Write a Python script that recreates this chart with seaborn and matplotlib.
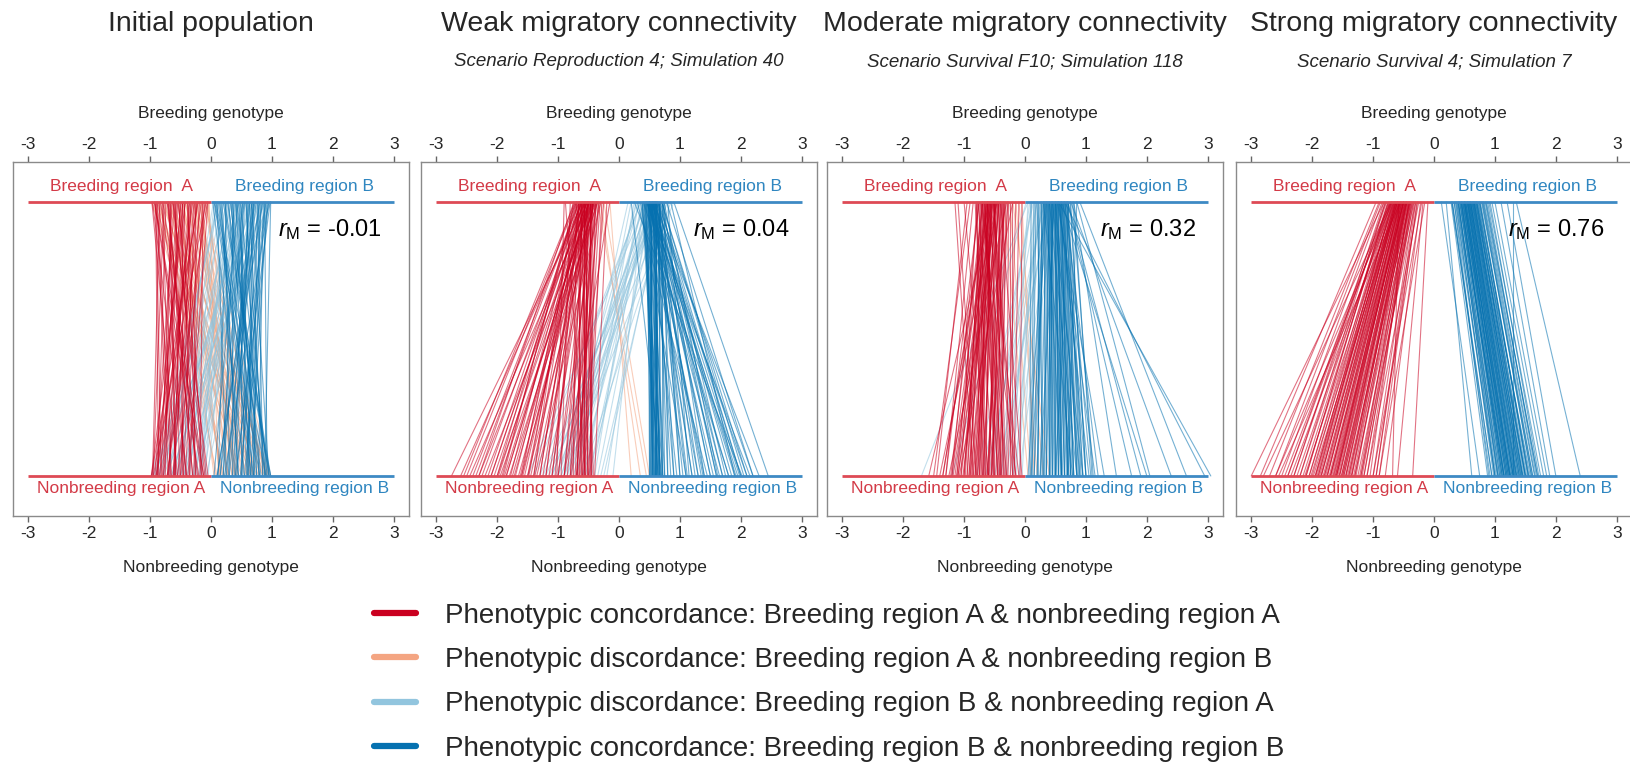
import numpy as np
import pandas as pd
import matplotlib
matplotlib.use("Agg")
import matplotlib.pyplot as plt
from matplotlib.lines import Line2D
import seaborn as sns

# ---------------- data ----------------
titles = ["Initial population", "Weak migratory connectivity",
          "Moderate migratory connectivity", "Strong migratory connectivity"]
subtitles = ["", "Scenario Reproduction 4; Simulation 40",
             "Scenario Survival F10; Simulation 118", "Scenario Survival 4; Simulation 7"]
r_m_values = ["-0.01", "0.04", "0.32", "0.76"]
tick_values = [-3, -2, -1, 0, 1, 2, 3]

# Panel 1 - initial population
p1_aa_breed = [-0.97, -0.93, -0.9, -0.86, -0.84, -0.8, -0.79, -0.74, -0.71, -0.69, -0.66, -0.63, -0.6, -0.58,
               -0.55, -0.53, -0.5, -0.47, -0.44, -0.42, -0.39, -0.36, -0.33, -0.3, -0.28, -0.25, -0.22, -0.19,
               -0.16, -0.13, -0.1, -0.08, -0.05, -0.88, -0.62, -0.57, -0.48, -0.35, -0.72, -0.91,
               -0.96, -0.89, -0.83, -0.77, -0.7, -0.64, -0.59, -0.54, -0.49, -0.43, -0.38, -0.32, -0.27, -0.21,
               -0.14, -0.06, -0.93, -0.67, -0.46, -0.24]
p1_aa_nonbr = [-0.55, -0.2, -0.82, -0.4, -0.96, -0.65, -0.12, -0.88, -0.3, -0.58, -0.75, -0.05, -0.92, -0.45,
               -0.68, -0.25, -0.8, -0.6, -0.35, -0.98, -0.15, -0.7, -0.5, -0.85, -0.62, -0.28, -0.9, -0.42,
               -0.72, -0.18, -0.55, -0.95, -0.38, -0.66, -0.1, -0.78, -0.48, -0.6, -0.22, -0.86,
               -0.4, -0.7, -0.15, -0.95, -0.3, -0.82, -0.52, -0.08, -0.88, -0.62, -0.25, -0.78, -0.45, -0.98,
               -0.35, -0.72, -0.12, -0.58, -0.9, -0.5]
p1_ab_breed = [-0.96, -0.9, -0.85, -0.81, -0.76, -0.7, -0.66, -0.61, -0.57, -0.52, -0.48, -0.43, -0.39, -0.34,
               -0.29, -0.24, -0.2, -0.15, -0.11, -0.06, -0.03, -0.78, -0.64, -0.45, -0.27, -0.88, -0.55, -0.36,
               -0.18, -0.09, -0.93, -0.83, -0.73, -0.63, -0.53, -0.41, -0.31, -0.22, -0.13, -0.05, -0.98, -0.68,
               -0.47, -0.26, -0.16]
p1_ab_nonbr = [0.3, 0.65, 0.1, 0.85, 0.45, 0.95, 0.2, 0.55, 0.75, 0.05, 0.4, 0.9, 0.62, 0.15, 0.8, 0.35, 0.7,
               0.25, 0.98, 0.5, 0.12, 0.6, 0.88, 0.28, 0.42, 0.72, 0.18, 0.92, 0.38, 0.68,
               0.5, 0.22, 0.78, 0.35, 0.92, 0.15, 0.65, 0.45, 0.85, 0.28, 0.7, 0.08, 0.58, 0.95, 0.4]
p1_ba_breed = [0.04, 0.08, 0.12, 0.17, 0.21, 0.26, 0.3, 0.34, 0.39, 0.43, 0.47, 0.52, 0.56, 0.6, 0.65, 0.69,
               0.73, 0.78, 0.82, 0.87, 0.91, 0.95, 0.15, 0.37, 0.5, 0.63, 0.76, 0.85, 0.24, 0.98,
               0.06, 0.19, 0.28, 0.41, 0.54, 0.67, 0.8, 0.93, 0.11, 0.33, 0.45, 0.58, 0.71, 0.89, 0.97]
p1_ba_nonbr = [-0.7, -0.35, -0.9, -0.15, -0.55, -0.8, -0.25, -0.62, -0.05, -0.45, -0.95, -0.3, -0.72, -0.12,
               -0.5, -0.85, -0.4, -0.65, -0.2, -0.58, -0.08, -0.78, -0.98, -0.42, -0.6, -0.28, -0.88, -0.5,
               -0.18, -0.68, -0.5, -0.78, -0.1, -0.38, -0.92, -0.22, -0.65, -0.45, -0.85, -0.55, -0.18, -0.72,
               -0.32, -0.95, -0.28]
p1_bb_breed = [0.03, 0.06, 0.1, 0.14, 0.18, 0.22, 0.25, 0.29, 0.32, 0.36, 0.4, 0.44, 0.48, 0.51, 0.54, 0.58,
               0.62, 0.66, 0.7, 0.74, 0.77, 0.8, 0.83, 0.86, 0.89, 0.92, 0.95, 0.98, 0.45, 0.6, 0.72, 0.35, 0.2,
               0.55, 0.68, 0.81, 0.9, 0.12, 0.42, 0.64,
               0.05, 0.16, 0.27, 0.38, 0.47, 0.57, 0.67, 0.76, 0.85, 0.94, 0.08, 0.24, 0.41, 0.52, 0.63, 0.79,
               0.88, 0.97, 0.33, 0.7]
p1_bb_nonbr = [0.55, 0.9, 0.25, 0.7, 0.45, 0.98, 0.12, 0.6, 0.82, 0.35, 0.68, 0.05, 0.92, 0.5, 0.2, 0.75, 0.4,
               0.95, 0.62, 0.3, 0.85, 0.1, 0.58, 0.78, 0.42, 0.65, 0.22, 0.88, 0.72, 0.52, 0.15, 0.8, 0.96, 0.38,
               0.6, 0.7, 0.48, 0.66, 0.9, 0.28,
               0.8, 0.45, 0.95, 0.2, 0.62, 0.88, 0.35, 0.7, 0.1, 0.55, 0.98, 0.3, 0.75, 0.15, 0.85, 0.5, 0.92,
               0.4, 0.65, 0.25]

# Panel 2 - weak connectivity
p2_aa_breed = [-0.55, -0.6, -0.48, -0.7, -0.52, -0.42, -0.65, -0.58, -0.45, -0.38, -0.62, -0.5, -0.72, -0.35,
               -0.56, -0.47, -0.68, -0.4, -0.53, -0.6, -0.44, -0.75, -0.3, -0.57, -0.49, -0.64, -0.41, -0.55,
               -0.66, -0.36, -0.8, -0.52, -0.46, -0.59, -0.7, -0.33, -0.61, -0.43, -0.5, -0.25, -0.88, -0.54,
               -0.63, -0.39, -0.47, -0.58, -0.2, -0.67, -0.51, -0.44, -0.56, -0.6, -0.48, -0.53, -0.65, -0.37,
               -0.15, -0.72, -0.9, -0.42,
               -0.66, -0.61, -0.57, -0.53, -0.49, -0.45, -0.41, -0.37, -0.63, -0.59, -0.55, -0.51, -0.47, -0.43,
               -0.39, -0.7, -0.74, -0.34, -0.31, -0.28, -0.56, -0.52, -0.48, -0.62, -0.58, -0.46, -0.44, -0.64,
               -0.69, -0.5]
p2_aa_nonbr = [-2.75, -2.6, -2.45, -2.5, -2.3, -2.2, -2.35, -2.1, -2.0, -1.95, -2.15, -1.85, -1.9, -1.8, -1.7,
               -1.75, -1.6, -1.65, -1.55, -1.5, -1.45, -1.4, -1.35, -1.3, -1.25, -1.2, -1.15, -1.1, -1.05, -1.0,
               -0.95, -0.9, -0.85, -0.8, -0.75, -0.7, -0.68, -0.65, -0.6, -0.58, -0.55, -0.52, -0.5, -0.48,
               -0.45, -0.42, -0.4, -0.62, -0.72, -0.66, -0.57, -1.62, -1.88, -2.05, -1.48, -0.78, -0.9, -2.55,
               -1.02, -1.38,
               -2.4, -2.25, -2.1, -1.98, -1.85, -1.72, -1.6, -1.5, -1.4, -1.3, -1.2, -1.1, -1.0, -0.9, -0.8,
               -2.0, -2.3, -0.7, -0.6, -0.5, -0.62, -0.55, -0.48, -0.68, -0.58, -0.52, -0.45, -1.78, -1.92, -1.58]
p2_ab_breed = [-0.35, -0.25, -0.15, -0.3]
p2_ab_nonbr = [0.45, 0.5, 0.2, 0.35]
p2_ba_breed = [0.35, 0.5, 0.42, 0.6, 0.28, 0.55, 0.45, 0.7, 0.38, 0.62, 0.48, 0.8, 0.32, 0.58, 0.4, 0.66, 0.52,
               0.25, 0.9, 0.44, 0.36, 0.75, 0.5, 0.3, 0.6, 0.46, 0.85, 0.55, 0.4, 0.2, 0.65, 0.34, 0.5, 0.72, 0.15]
p2_ba_nonbr = [-1.3, -1.1, -0.9, -1.2, -0.8, -1.0, -0.7, -1.15, -0.6, -0.95, -0.5, -1.05, -0.4, -0.85, -0.75,
               -1.25, -0.65, -0.55, -0.9, -0.45, -1.4, -0.3, -0.2, -1.0, -0.8, -1.5, -0.6, -0.35, -0.1, -0.7,
               -0.5, -0.95, -1.1, -0.25, -0.85]
p2_bb_breed = [0.55, 0.5, 0.6, 0.45, 0.65, 0.52, 0.58, 0.48, 0.7, 0.42, 0.62, 0.55, 0.5, 0.75, 0.38, 0.6, 0.53,
               0.47, 0.66, 0.57, 0.35, 0.8, 0.5, 0.62, 0.44, 0.56, 0.72, 0.3, 0.59, 0.51, 0.64, 0.46, 0.54, 0.68,
               0.4, 0.58, 0.85, 0.49, 0.61, 0.25, 0.55, 0.7, 0.52, 0.45, 0.63, 0.57, 0.9, 0.5, 0.6, 0.43, 0.53,
               0.67, 0.48, 0.56, 0.62, 0.2, 0.58, 0.5, 0.74, 0.54,
               0.52, 0.56, 0.6, 0.48, 0.64, 0.44, 0.68, 0.58, 0.54, 0.5, 0.62, 0.46, 0.66, 0.72, 0.42, 0.57,
               0.53, 0.61, 0.49, 0.55, 0.59, 0.63, 0.47, 0.51, 0.65, 0.7, 0.4, 0.78, 0.38, 0.6]
p2_bb_nonbr = [0.5, 0.55, 0.6, 0.52, 0.65, 0.58, 0.62, 0.68, 0.7, 0.56, 0.6, 0.72, 0.75, 0.8, 0.64, 0.85, 0.9,
               0.95, 1.0, 1.05, 1.1, 1.15, 1.2, 1.25, 1.3, 1.35, 1.4, 1.45, 1.5, 1.55, 1.6, 1.65, 1.7, 1.75, 1.8,
               1.85, 1.9, 1.95, 2.0, 2.02, 1.98, 2.05, 2.1, 2.15, 2.2, 2.3, 2.45, 0.57, 0.63, 0.66, 0.53, 0.59,
               0.61, 0.67, 0.54, 0.7, 1.12, 1.38, 1.62, 1.92,
               0.55, 0.6, 0.65, 0.5, 0.7, 0.58, 0.75, 0.62, 0.52, 0.68, 0.8, 0.56, 0.9, 1.0, 0.6, 1.1, 1.2, 1.3,
               1.4, 1.5, 1.6, 1.7, 1.8, 1.9, 2.0, 2.1, 0.64, 2.2, 0.72, 0.66]

# Panel 3 - moderate connectivity
p3_aa_breed = [-0.75, -0.6, -0.5, -0.68, -0.45, -0.55, -0.8, -0.4, -0.62, -0.35, -0.7, -0.52, -0.3, -0.58,
               -0.48, -0.65, -0.42, -0.78, -0.56, -0.38, -0.66, -0.5, -0.25, -0.72, -0.6, -0.46, -0.54, -0.33,
               -0.82, -0.64, -0.44, -0.57, -0.7, -0.2, -0.52, -0.62, -0.4, -0.74, -0.49, -0.59, -0.36, -0.67,
               -0.15, -0.9, -0.53, -0.63, -0.43, -0.71, -0.1, -1.15, -1.1, -0.56, -0.47, -0.61, -0.28, -0.77,
               -0.51, -0.69, -0.58, -0.05,
               -0.79, -0.73, -0.67, -0.61, -0.55, -0.5, -0.45, -0.41, -0.37, -0.32, -0.27, -0.22, -0.76, -0.7,
               -0.64, -0.59, -0.53, -0.48, -0.43, -0.39, -0.34, -0.29, -0.85, -0.95, -1.0, -0.66, -0.57, -0.46,
               -0.52, -0.62]
p3_aa_nonbr = [-1.3, -1.2, -1.1, -1.0, -0.9, -0.8, -0.7, -0.6, -0.5, -0.4, -0.3, -0.2, -1.25, -1.15, -1.05,
               -0.95, -0.85, -0.75, -0.65, -0.55, -0.45, -0.35, -0.25, -0.15, -1.35, -1.4, -0.72, -0.62, -0.52,
               -0.42, -0.32, -0.88, -0.98, -1.08, -1.18, -0.1, -0.05, -0.68, -0.58, -0.78, -0.48, -0.38, -0.28,
               -1.5, -1.58, -0.92, -0.82, -0.66, -0.18, -0.85, -0.8, -1.12, -1.02, -0.74, -0.56, -0.44, -0.34,
               -1.22, -0.64, -0.08,
               -1.05, -0.95, -0.9, -0.82, -0.75, -0.68, -0.6, -0.52, -0.45, -0.38, -0.3, -0.22, -1.2, -1.12,
               -1.0, -0.92, -0.86, -0.78, -0.7, -0.62, -0.55, -0.42, -1.3, -1.45, -0.6, -0.5, -0.4, -1.1, -0.15,
               -1.35]
p3_ab_breed = [-0.25, -0.15, -0.1, -0.35, -0.05, -0.2]
p3_ab_nonbr = [0.1, 0.2, 0.3, 0.05, 0.15, 0.4]
p3_ba_breed = [0.05, 0.1, 0.15, 0.2, 0.25, 0.3, 0.12, 0.18, 0.35, 0.4, 0.08, 0.22, 0.28, 0.45, 0.5, 0.14, 0.32,
               0.05, 0.38, 0.02]
p3_ba_nonbr = [-0.2, -0.4, -0.1, -0.6, -0.3, -0.5, -0.7, -0.15, -0.25, -0.45, -0.55, -0.05, -0.35, -0.2, -0.1,
               -0.8, -0.65, -1.7, -0.4, -1.2]
p3_bb_breed = [0.4, 0.5, 0.3, 0.6, 0.45, 0.55, 0.35, 0.65, 0.25, 0.7, 0.42, 0.52, 0.38, 0.58, 0.48, 0.62, 0.32,
               0.68, 0.2, 0.75, 0.44, 0.54, 0.4, 0.6, 0.5, 0.28, 0.66, 0.36, 0.56, 0.46, 0.15, 0.8, 0.52, 0.43,
               0.63, 0.33, 0.57, 0.47, 0.72, 0.1, 0.5, 0.6, 0.4, 0.85, 0.55, 0.45, 0.65, 0.35, 0.53, 0.3, 0.8,
               0.7, 0.6, 0.85, 0.75, 0.9, 0.65, 0.55, 0.7, 0.5,
               0.31, 0.37, 0.41, 0.46, 0.51, 0.56, 0.61, 0.66, 0.71, 0.27, 0.34, 0.39, 0.44, 0.49, 0.54, 0.59,
               0.64, 0.69, 0.74, 0.22, 0.48, 0.53, 0.58, 0.43, 0.38, 0.63, 0.68, 0.33, 0.78, 0.18]
p3_bb_nonbr = [0.3, 0.5, 0.2, 0.7, 0.4, 0.6, 0.1, 0.8, 0.15, 0.9, 0.45, 0.55, 0.35, 0.65, 0.25, 0.75, 0.05,
               0.85, 0.3, 1.0, 0.5, 0.6, 0.4, 0.7, 0.55, 0.2, 0.95, 0.25, 1.05, 0.35, 0.1, 1.1, 0.65, 0.45, 0.8,
               0.15, 0.75, 0.6, 0.5, 0.08, 0.9, 1.0, 0.85, 0.7, 1.15, 0.95, 1.2, 0.6, 1.3, 0.78, 1.5, 1.75, 2.0,
               2.05, 2.4, 2.65, 2.95, 3.05, 1.9, 0.72,
               0.35, 0.45, 0.5, 0.58, 0.65, 0.72, 0.8, 0.88, 0.95, 0.28, 0.4, 0.48, 0.55, 0.62, 0.7, 0.78, 0.86,
               0.92, 1.0, 0.22, 0.6, 0.68, 0.75, 0.52, 0.42, 0.85, 1.08, 0.32, 1.12, 0.12]

# Panel 4 - strong connectivity
p4_aa_breed = [-0.6, -0.5, -0.7, -0.45, -0.55, -0.65, -0.4, -0.75, -0.52, -0.58, -0.35, -0.62, -0.48, -0.68,
               -0.42, -0.8, -0.56, -0.3, -0.66, -0.5, -0.72, -0.46, -0.6, -0.38, -0.54, -0.64, -0.44, -0.78,
               -0.25, -0.58, -0.5, -0.7, -0.4, -0.62, -0.85, -0.47, -0.56, -0.33, -0.66, -0.52, -0.2, -0.74,
               -0.43, -0.6, -0.9, -0.5, -0.57, -0.36, -0.68, -0.15, -0.55, -0.45, -0.63, -0.7, -0.4, -0.53,
               -0.82, -0.3, -0.6, -0.48, -0.65, -0.1, -0.58, -0.42, -0.72, -0.5, -0.62, -0.38, -0.45, -0.55,
               -0.82, -0.76, -0.69, -0.63, -0.57, -0.51, -0.46, -0.41, -0.37, -0.32, -0.28, -0.22, -0.18, -0.88,
               -0.79, -0.71, -0.67, -0.61, -0.54, -0.49, -0.44, -0.39, -0.34, -0.27, -0.95, -0.59, -0.53, -0.47,
               -0.64, -0.73]
p4_aa_nonbr = [-1.8, -1.6, -2.0, -1.5, -1.7, -1.9, -1.4, -2.1, -1.65, -1.75, -1.3, -1.85, -1.55, -1.95, -1.45,
               -2.2, -1.72, -1.2, -2.05, -1.62, -2.15, -1.52, -1.82, -1.35, -1.68, -1.92, -1.48, -2.3, -1.1,
               -1.78, -1.58, -2.25, -1.42, -1.88, -2.5, -1.38, -1.66, -1.25, -2.35, -1.6, -1.0, -2.4, -1.32,
               -1.98, -2.7, -1.5, -1.76, -1.15, -2.6, -0.9, -1.7, -1.28, -2.02, -2.8, -1.22, -1.56, -3.0, -0.95,
               -1.86, -1.44, -2.12, -0.35, -0.68, -1.05, -2.45, -1.64, -1.94, -1.18, -1.36, -2.55,
               -2.3, -2.1, -1.9, -1.75, -1.6, -1.45, -1.35, -1.2, -1.1, -1.0, -0.9, -0.8, -0.6, -2.6, -2.4,
               -2.05, -1.95, -1.8, -1.62, -1.52, -1.4, -1.3, -1.15, -0.95, -2.85, -1.7, -1.55, -1.48, -1.85, -2.2]
p4_ab_breed = []
p4_ab_nonbr = []
p4_ba_breed = []
p4_ba_nonbr = []
p4_bb_breed = [0.6, 0.5, 0.7, 0.45, 0.55, 0.65, 0.4, 0.75, 0.52, 0.58, 0.35, 0.62, 0.48, 0.68, 0.42, 0.8, 0.56,
               0.3, 0.66, 0.5, 0.72, 0.46, 0.6, 0.38, 0.54, 0.64, 0.44, 0.78, 0.85, 0.58, 0.5, 0.7, 0.4, 0.62,
               0.9, 0.47, 0.56, 0.33, 0.66, 0.52, 0.95, 0.74, 0.43, 0.6, 1.0, 0.5, 0.57, 0.36, 0.68, 0.28, 0.55,
               0.45, 0.63, 0.7, 0.4, 0.53, 0.82, 0.3, 0.6, 0.48, 0.65, 0.12, 0.2, 1.2, 1.3, 1.35, 0.88, 0.92,
               0.75, 1.1,
               0.42, 0.47, 0.51, 0.55, 0.59, 0.63, 0.67, 0.71, 0.76, 0.81, 0.86, 0.37, 0.33, 0.29, 0.52, 0.57,
               0.61, 0.66, 0.73, 0.79, 0.45, 0.49, 0.54, 0.69, 0.84, 0.39, 0.64, 0.58, 0.5, 0.44]
p4_bb_nonbr = [1.3, 1.2, 1.45, 1.1, 1.25, 1.4, 1.05, 1.55, 1.22, 1.32, 1.0, 1.38, 1.15, 1.5, 1.08, 1.6, 1.28,
               0.95, 1.42, 1.18, 1.52, 1.12, 1.35, 1.02, 1.24, 1.44, 1.1, 1.62, 1.7, 1.3, 1.16, 1.48, 1.04, 1.36,
               1.75, 1.14, 1.26, 0.9, 1.46, 1.2, 1.8, 1.56, 1.06, 1.34, 1.85, 1.18, 1.28, 0.98, 1.5, 0.88, 1.24,
               1.12, 1.4, 1.58, 1.0, 1.22, 1.65, 0.92, 1.33, 1.15, 1.43, 0.75, 0.62, 2.0, 1.3, 2.4, 1.68, 1.72,
               1.54, 1.9,
               1.15, 1.2, 1.25, 1.3, 1.35, 1.4, 1.45, 1.5, 1.55, 1.62, 1.7, 1.05, 1.0, 0.95, 1.22, 1.3, 1.36,
               1.42, 1.5, 1.6, 1.12, 1.18, 1.26, 1.46, 1.66, 1.08, 1.38, 1.32, 1.24, 1.14]

panels = [
    [(p1_ab_breed, p1_ab_nonbr), (p1_ba_breed, p1_ba_nonbr), (p1_aa_breed, p1_aa_nonbr), (p1_bb_breed, p1_bb_nonbr)],
    [(p2_ab_breed, p2_ab_nonbr), (p2_ba_breed, p2_ba_nonbr), (p2_aa_breed, p2_aa_nonbr), (p2_bb_breed, p2_bb_nonbr)],
    [(p3_ab_breed, p3_ab_nonbr), (p3_ba_breed, p3_ba_nonbr), (p3_aa_breed, p3_aa_nonbr), (p3_bb_breed, p3_bb_nonbr)],
    [(p4_ab_breed, p4_ab_nonbr), (p4_ba_breed, p4_ba_nonbr), (p4_aa_breed, p4_aa_nonbr), (p4_bb_breed, p4_bb_nonbr)],
]
categories = ["AB", "BA", "AA", "BB"]  # draw order: discordant first
legend_labels = {
    "AA": "Phenotypic concordance: Breeding region A & nonbreeding region A",
    "AB": "Phenotypic discordance: Breeding region A & nonbreeding region B",
    "BA": "Phenotypic discordance: Breeding region B & nonbreeding region A",
    "BB": "Phenotypic concordance: Breeding region B & nonbreeding region B",
}
palette = {"AA": "#CA0020", "AB": "#F4A582", "BA": "#92C5DE", "BB": "#0571B0"}

# ---------------- styling ----------------
sns.set_theme(style="white")
plt.rcParams["font.family"] = ["Liberation Sans", "DejaVu Sans"]
plt.rcParams["mathtext.fontset"] = "custom"
plt.rcParams["mathtext.it"] = "Liberation Sans:italic"
plt.rcParams["mathtext.rm"] = "Liberation Sans"

W, H = 1630, 763
fig = plt.figure(figsize=(W / 100, H / 100), dpi=100)

lefts = [13, 421, 827, 1236]
ax_w, ax_top, ax_bot = 396, 162, 516
red_line, blue_line = "#DE4A55", "#3D8AC4"
red_txt, blue_txt = "#D33A47", "#2F86C0"

for i, cat_data in enumerate(panels):
    ax = fig.add_axes([lefts[i] / W, 1 - ax_bot / H, ax_w / W, (ax_bot - ax_top) / H])
    rows = []
    lid = 0
    for cat, (br, nb) in zip(categories, cat_data):
        assert len(br) == len(nb), (i, cat, len(br), len(nb))
        for b, n in zip(br, nb):
            rows.append((lid, 1.0, b, cat))
            rows.append((lid, 0.0, n, cat))
            lid += 1
    df = pd.DataFrame(rows, columns=["line", "level", "genotype", "category"])
    present = [c for c in categories if c in set(df["category"])]
    sns.lineplot(data=df, x="genotype", y="level", units="line", estimator=None,
                 hue="category", hue_order=present, palette=palette, sort=False,
                 legend=False, lw=0.8, alpha=0.55, ax=ax)

    # region baselines
    ax.plot([-3, 0], [1, 1], color=red_line, lw=2, solid_capstyle="butt")
    ax.plot([0, 3], [1, 1], color=blue_line, lw=2, solid_capstyle="butt")
    ax.plot([-3, 0], [0, 0], color=red_line, lw=2, solid_capstyle="butt")
    ax.plot([0, 3], [0, 0], color=blue_line, lw=2, solid_capstyle="butt")
    ax.text(-1.47, 1.055, "Breeding region  A", color=red_txt, fontsize=12.5, ha="center", va="center")
    ax.text(1.54, 1.055, "Breeding region B", color=blue_txt, fontsize=12.5, ha="center", va="center")
    ax.text(-1.47, -0.045, "Nonbreeding region A", color=red_txt, fontsize=12.5, ha="center", va="center")
    ax.text(1.54, -0.045, "Nonbreeding region B", color=blue_txt, fontsize=12.5, ha="center", va="center")
    ax.text(2.8, 0.9, r"$r_{\mathrm{M}}$" + " = " + r_m_values[i], fontsize=17, ha="right", va="center",
            color="black")

    ax.set_xlim(-3.25, 3.25)
    ax.set_ylim(-0.146, 1.146)
    ax.set_yticks([])
    ax.set_ylabel("")
    ax.set_xticks(tick_values)
    ax.set_xticklabels([str(t) for t in tick_values])
    ax.tick_params(axis="x", direction="out", length=4, width=1, color="#666666",
                   labelsize=12.5, pad=3, bottom=True, top=False)
    ax.set_xlabel("Nonbreeding genotype", fontsize=12.5, labelpad=14)
    sec = ax.secondary_xaxis("top")
    sec.set_xticks(tick_values)
    sec.set_xticklabels([str(t) for t in tick_values])
    sec.tick_params(axis="x", direction="out", length=4, width=1, color="#666666", labelsize=12.5, pad=3)
    sec.set_xlabel("Breeding genotype", fontsize=12.5, labelpad=14)
    for s in sec.spines.values():
        s.set_visible(False)
    for s in ax.spines.values():
        s.set_color("#8a8a8a")
        s.set_linewidth(1.0)

    cx = (lefts[i] + ax_w / 2) / W
    fig.text(cx, 1 - 24 / H, titles[i], fontsize=20.5, ha="center", va="center")
    if subtitles[i]:
        fig.text(cx, 1 - 62 / H, subtitles[i], fontsize=13.5, style="italic", ha="center", va="center")

handles = [Line2D([0], [0], color=palette[c], lw=4.5) for c in ["AA", "AB", "BA", "BB"]]
labels = [legend_labels[c] for c in ["AA", "AB", "BA", "BB"]]
fig.legend(handles, labels, loc="upper left", bbox_to_anchor=(374 / W, 1 - 603 / H),
           frameon=False, fontsize=20, handlelength=1.5, handletextpad=1.05,
           labelspacing=0.655, borderpad=0, borderaxespad=0)

fig.savefig("out.png", dpi=100)
